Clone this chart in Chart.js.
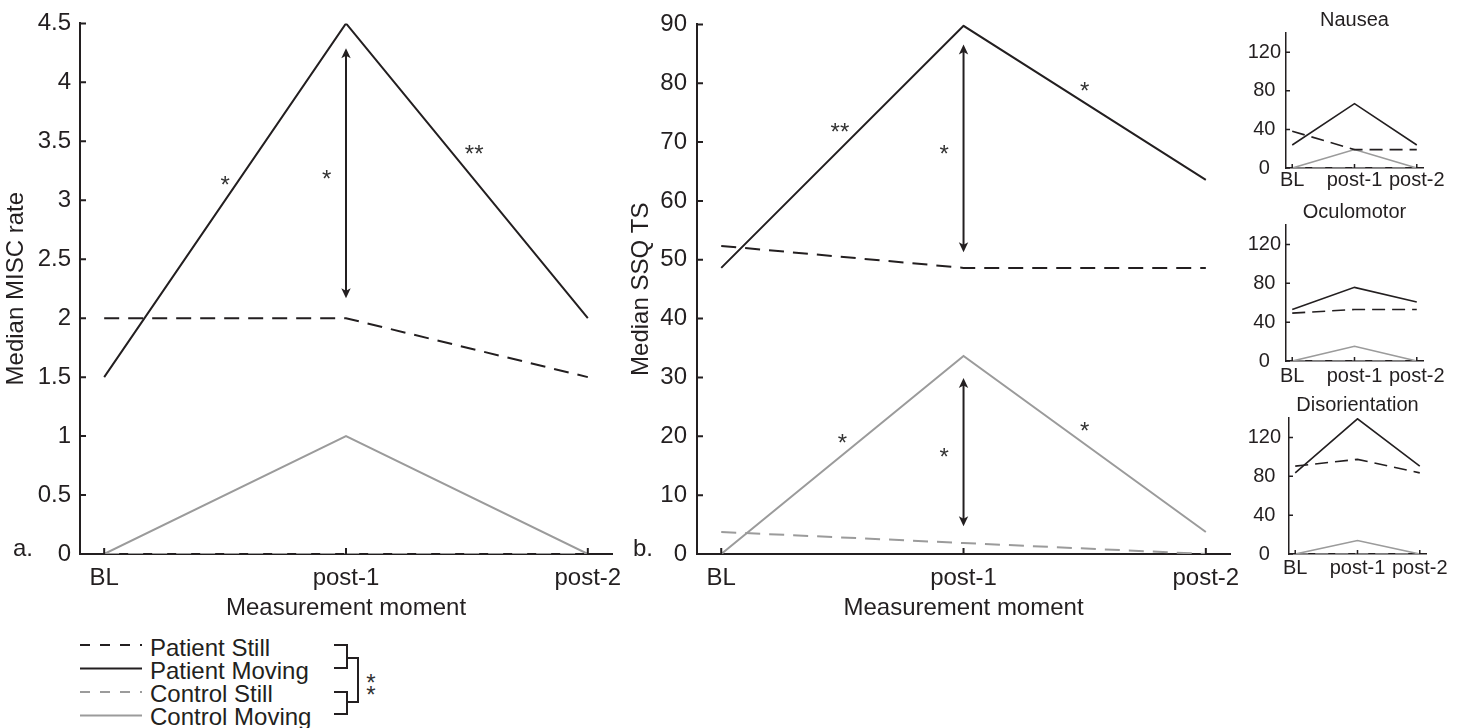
<!DOCTYPE html>
<html>
<head>
<meta charset="utf-8">
<title>MISC and SSQ medians per measurement moment</title>
<script src="https://cdn.jsdelivr.net/npm/chart.js@4.4.1/dist/chart.umd.min.js"></script>
<style>
  html, body { margin: 0; padding: 0; background: #fff; }
  body { position: relative; width: 1465px; height: 728px; overflow: hidden; }
  canvas, svg { position: absolute; }
</style>
</head>
<body>
<canvas id="misc" width="640" height="630" style="left:0;top:0"></canvas>
<canvas id="ssq" width="640" height="630" style="left:610px;top:0"></canvas>
<canvas id="nausea" width="220" height="200" style="left:1245px;top:0"></canvas>
<canvas id="oculo" width="220" height="201" style="left:1245px;top:192px"></canvas>
<canvas id="diso" width="220" height="201" style="left:1245px;top:385px"></canvas>
<svg id="legend" width="420" height="98" style="left:0;top:630px" xmlns="http://www.w3.org/2000/svg"></svg>
<script>
(function () {
'use strict';

const moments = ['BL', 'post-1', 'post-2'];
const momentX = [1, 2, 3];
const groups = ['Patient Still', 'Patient Moving', 'Control Still', 'Control Moving'];

// a. median MISC rate
const miscPatientStill  = [2, 2, 1.5];
const miscPatientMoving = [1.5, 4.5, 2];
const miscControlStill  = [0, 0, 0];
const miscControlMoving = [0, 1, 0];
const miscTicks = [0, 0.5, 1, 1.5, 2, 2.5, 3, 3.5, 4, 4.5];
// significance: stars [x, y, text], arrows [x, yFrom, yTo] (data units)
const miscStars  = [[1.5, 3.17, '*'], [1.92, 3.22, '*'], [2.53, 3.43, '**']];
const miscArrows = [[2, 2.17, 4.29]];

// b. median SSQ total score
const ssqPatientStill  = [52.36, 48.62, 48.62];
const ssqPatientMoving = [48.62, 89.76, 63.58];
const ssqControlStill  = [3.74, 1.87, 0];
const ssqControlMoving = [0, 33.66, 3.74];
const ssqTicks = [0, 10, 20, 30, 40, 50, 60, 70, 80, 90];
const ssqStars = [[1.49, 72.5, '**'], [1.92, 68.8, '*'], [2.5, 79.4, '*'],
                  [1.5, 19.7, '*'], [1.92, 17.2, '*'], [2.5, 21.7, '*']];
const ssqArrows = [[2, 51.3, 86.6], [2, 4.7, 29.9]];

// SSQ subscales
const nauseaPatientStill  = [38.16, 19.08, 19.08];
const nauseaPatientMoving = [23.85, 66.78, 23.85];
const nauseaControlStill  = [0, 0, 0];
const nauseaControlMoving = [0, 19.08, 0];
const oculoPatientStill   = [49.27, 53.06, 53.06];
const oculoPatientMoving  = [53.06, 75.8, 60.64];
const oculoControlStill   = [0, 0, 0];
const oculoControlMoving  = [0, 15.16, 0];
const disoPatientStill    = [90.48, 97.44, 83.52];
const disoPatientMoving   = [83.52, 139.2, 90.48];
const disoControlStill    = [0, 0, 0];
const disoControlMoving   = [0, 13.92, 0];
const subTicks = [0, 40, 80, 120];

const INK = '#231f20';
const GREY = '#9b9b9b';
const FONT = '"Liberation Sans", Arial, Helvetica, sans-serif';
const groupStyle = [
  { color: INK,  dashed: true },
  { color: INK,  dashed: false },
  { color: GREY, dashed: true },
  { color: GREY, dashed: false },
];

function lines(series, width, dash) {
  return series.map((vals, k) => ({
    label: groups[k],
    data: vals.map((v, i) => ({ x: momentX[i], y: v })),
    borderColor: groupStyle[k].color,
    borderWidth: width,
    borderDash: groupStyle[k].dashed ? dash : [],
    fill: false,
  }));
}

// inward ticks, titles, panel letters, significance marks
function decor(cfg) {
  return {
    id: 'decor',
    afterDatasetsDraw(chart) {
      const { ctx, chartArea: a, scales: { x, y } } = chart;
      ctx.save();
      ctx.strokeStyle = INK;
      ctx.fillStyle = INK;
      ctx.lineWidth = cfg.axisWidth;
      ctx.beginPath();
      x.ticks.forEach(t => {
        const px = x.getPixelForValue(t.value);
        ctx.moveTo(px, a.bottom);
        ctx.lineTo(px, a.bottom - cfg.tickLen);
      });
      y.ticks.forEach(t => {
        const py = y.getPixelForValue(t.value);
        ctx.moveTo(a.left, py);
        ctx.lineTo(a.left + cfg.tickLen, py);
      });
      ctx.stroke();

      if (cfg.title) {
        ctx.font = cfg.fontSize + 'px ' + FONT;
        ctx.textAlign = 'center';
        ctx.textBaseline = 'middle';
        ctx.fillText(cfg.title, (a.left + a.right) / 2, a.top - 12.5);
      }
      if (cfg.letter) {
        ctx.font = cfg.fontSize + 'px ' + FONT;
        ctx.textAlign = 'right';
        ctx.textBaseline = 'alphabetic';
        ctx.fillText(cfg.letter, a.left - cfg.letterDx, a.bottom + 2);
      }

      (cfg.arrows || []).forEach(([ax, y0, y1]) => {
        const px = x.getPixelForValue(ax);
        const pBot = y.getPixelForValue(y0);
        const pTop = y.getPixelForValue(y1);
        const head = 10, half = 4.7;
        ctx.lineWidth = 2;
        ctx.beginPath();
        ctx.moveTo(px, pBot - head * 0.6);
        ctx.lineTo(px, pTop + head * 0.6);
        ctx.stroke();
        [[pTop, 1], [pBot, -1]].forEach(([tip, dir]) => {
          ctx.beginPath();
          ctx.moveTo(px, tip);
          ctx.lineTo(px - half, tip + dir * head);
          ctx.lineTo(px, tip + dir * head * 0.75);
          ctx.lineTo(px + half, tip + dir * head);
          ctx.closePath();
          ctx.fill();
        });
      });

      ctx.font = '24px ' + FONT;
      ctx.fillStyle = '#333';
      ctx.textAlign = 'center';
      ctx.textBaseline = 'alphabetic';
      (cfg.stars || []).forEach(([sx, sy, txt]) => {
        const m = ctx.measureText(txt);
        const px = x.getPixelForValue(sx);
        const py = y.getPixelForValue(sy);
        ctx.fillText(txt, px, py + (m.actualBoundingBoxAscent - m.actualBoundingBoxDescent) / 2);
      });
      ctx.restore();
    },
  };
}

function panel(id, cfg) {
  const tickFont = { family: FONT, size: cfg.fontSize };
  return new Chart(document.getElementById(id), {
    type: 'line',
    data: { datasets: lines(cfg.series, cfg.lineWidth, cfg.dash) },
    options: {
      responsive: false,
      animation: false,
      events: [],
      layout: { padding: cfg.padding },
      elements: { point: { radius: 0 }, line: { tension: 0, borderCapStyle: 'butt' } },
      plugins: { legend: { display: false }, tooltip: { enabled: false } },
      scales: {
        x: {
          type: 'linear', min: 0.9, max: 3.1,
          afterBuildTicks: s => { s.ticks = momentX.map(v => ({ value: v })); },
          afterFit: s => { s.height = cfg.xHeight; },
          ticks: { autoSkip: false, maxRotation: 0, padding: cfg.xPad, color: INK, font: tickFont,
                   callback: (v, i) => moments[i] },
          grid: { display: false, drawTicks: false },
          border: { display: true, color: INK, width: cfg.axisWidth },
          title: { display: !!cfg.xTitle, text: cfg.xTitle || '', color: INK, font: tickFont,
                   padding: { top: 0, bottom: cfg.xTitlePad || 0 } },
        },
        y: {
          min: 0, max: cfg.yMax,
          afterBuildTicks: s => { s.ticks = cfg.yTicks.map(v => ({ value: v })); },
          afterFit: s => { s.width = cfg.yWidth; },
          ticks: { autoSkip: false, padding: cfg.yPad, crossAlign: cfg.crossAlign || 'near',
                   color: INK, font: tickFont, callback: v => String(v) },
          grid: { display: false, drawTicks: false },
          border: { display: true, color: INK, width: cfg.axisWidth },
          title: { display: !!cfg.yTitle, text: cfg.yTitle || '', color: INK, font: tickFont,
                   padding: { top: cfg.yTitlePad || 0, bottom: 0 } },
        },
      },
    },
    plugins: [decor(cfg)],
  });
}

const big = { fontSize: 24, lineWidth: 2, dash: [15, 9], axisWidth: 2, tickLen: 6,
              xHeight: 76, xPad: 10, xTitle: 'Measurement moment', xTitlePad: 7.6 };
const small = { fontSize: 20, lineWidth: 1.6, dash: [13, 7], axisWidth: 1.5, tickLen: 4,
                xHeight: 32, yMax: 140, yTicks: subTicks, yPad: 5, yWidth: 41,
                crossAlign: 'center', padding: { top: 33, right: 42, bottom: 0, left: 0 } };

panel('misc', Object.assign({}, big, {
  series: [miscPatientStill, miscPatientMoving, miscControlStill, miscControlMoving],
  padding: { top: 20, right: 28, bottom: 0, left: 0 },
  yMax: 4.5, yTicks: miscTicks, yWidth: 80, yPad: 9,
  yTitle: 'Median MISC rate', yTitlePad: 2.3,
  letter: 'a.', letterDx: 47, stars: miscStars, arrows: miscArrows,
}));

panel('ssq', Object.assign({}, big, {
  series: [ssqPatientStill, ssqPatientMoving, ssqControlStill, ssqControlMoving],
  padding: { top: 20, right: 18, bottom: 0, left: 0 },
  yMax: 90, yTicks: ssqTicks, yWidth: 87, yPad: 10,
  yTitle: 'Median SSQ TS', yTitlePad: 17,
  letter: 'b.', letterDx: 44, stars: ssqStars, arrows: ssqArrows,
}));

panel('nausea', Object.assign({}, small, {
  series: [nauseaPatientStill, nauseaPatientMoving, nauseaControlStill, nauseaControlMoving],
  title: 'Nausea', xPad: 0,
}));

panel('oculo', Object.assign({}, small, {
  series: [oculoPatientStill, oculoPatientMoving, oculoControlStill, oculoControlMoving],
  title: 'Oculomotor', xPad: 3,
}));

panel('diso', Object.assign({}, small, {
  series: [disoPatientStill, disoPatientMoving, disoControlStill, disoControlMoving],
  title: 'Disorientation', xPad: 2, yWidth: 44, yPad: 8,
  padding: { top: 33, right: 39, bottom: 0, left: 0 },
}));

// shared legend with the group-comparison bracket
function drawLegend() {
  const svg = document.getElementById('legend');
  const NS = 'http://www.w3.org/2000/svg';
  const add = (tag, attrs, text) => {
    const el = document.createElementNS(NS, tag);
    Object.keys(attrs).forEach(k => el.setAttribute(k, attrs[k]));
    if (text) el.textContent = text;
    svg.appendChild(el);
    return el;
  };
  groups.forEach((g, k) => {
    const ly = 15 + k * 23.5;
    const st = groupStyle[k];
    add('line', { x1: 80, x2: 142, y1: ly, y2: ly, stroke: st.color, 'stroke-width': 2,
                  'stroke-dasharray': st.dashed ? '10 10' : 'none' });
    add('text', { x: 150, y: 25.6 + k * 23, fill: INK, 'font-size': 24, 'font-family': FONT }, g);
  });
  add('path', { d: 'M334 15H347V38H334M334 62H347V84H334M347 28H358V72H347',
                fill: 'none', stroke: INK, 'stroke-width': 2 });
  add('text', { x: 371, y: 61, fill: '#333', 'font-size': 24, 'font-family': FONT, 'text-anchor': 'middle' }, '*');
  add('text', { x: 371, y: 73, fill: '#333', 'font-size': 24, 'font-family': FONT, 'text-anchor': 'middle' }, '*');
}
drawLegend();
})();
</script>
</body>
</html>
